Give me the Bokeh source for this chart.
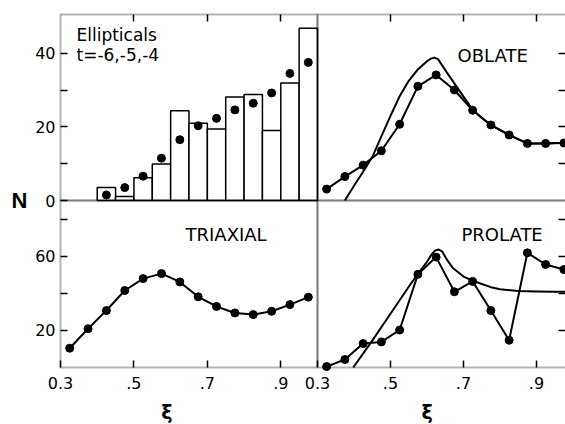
from bokeh.plotting import figure
from bokeh.models import Range1d, LinearAxis, FixedTicker, BoxAnnotation, Label
from bokeh.embed import file_html
from bokeh.resources import INLINE

# ---------------- data ----------------
# Ellipticals histogram (bins of width 0.05) and dots
bin_edges = [0.40, 0.45, 0.50, 0.55, 0.60, 0.65, 0.70, 0.75, 0.80, 0.85, 0.90, 0.95, 1.00]
bar_n = [3.5, 1.1, 6.2, 9.9, 24.4, 21.0, 19.4, 28.1, 28.8, 19.0, 31.9, 46.8]
ell_x = [0.425, 0.475, 0.525, 0.575, 0.625, 0.675, 0.725, 0.775, 0.825, 0.875, 0.925, 0.975]
ell_n = [1.5, 3.5, 6.6, 11.5, 16.5, 20.3, 22.3, 24.6, 26.4, 29.2, 34.5, 37.5]

# xi values of the binned points (oblate / triaxial / prolate)
xi = [0.325, 0.375, 0.425, 0.475, 0.525, 0.575, 0.625, 0.675, 0.725, 0.775, 0.825, 0.875, 0.925, 0.975]
oblate_n = [3.1, 6.5, 9.6, 13.5, 20.7, 31.0, 34.1, 30.0, 24.5, 20.5, 17.8, 15.5, 15.5, 15.6]
triaxial_n = [10.4, 20.9, 30.7, 41.5, 47.9, 50.6, 46.1, 38.1, 32.9, 29.4, 28.5, 30.3, 33.9, 37.9]
prolate_n = [0.5, 4.3, 12.9, 13.8, 20.2, 50.2, 59.5, 40.8, 46.4, 30.7, 14.7, 61.8, 55.5, 52.8]

# smooth curves
oblate_curve_x = [0.375, 0.40, 0.425, 0.45, 0.475, 0.50, 0.525, 0.55, 0.575, 0.60, 0.61, 0.62,
                  0.63, 0.65, 0.675, 0.70, 0.725, 0.75, 0.775, 0.80, 0.825, 0.85, 0.875, 0.90,
                  0.925, 0.95, 0.975, 0.99]
oblate_curve_n = [0.0, 4.0, 7.8, 11.8, 17.4, 23.0, 28.3, 32.5, 35.6, 37.8, 38.5, 38.8,
                  38.4, 35.4, 31.8, 28.2, 24.7, 22.4, 20.5, 19.1, 17.8, 16.6, 15.5, 15.5,
                  15.5, 15.6, 15.6, 15.6]
prolate_curve_x = [0.398, 0.45, 0.50, 0.55, 0.575, 0.60, 0.612, 0.622, 0.632, 0.642, 0.655,
                   0.67, 0.70, 0.725, 0.75, 0.775, 0.80, 0.85, 0.90, 0.95, 0.99]
prolate_curve_n = [0.0, 14.5, 29.0, 43.5, 50.5, 57.0, 60.8, 63.0, 63.6, 62.4, 58.0,
                   53.8, 49.0, 46.8, 45.0, 43.3, 42.2, 41.2, 40.9, 40.8, 40.8]

x_ticks = [0.3, 0.5, 0.7, 0.9]
x_tick_labels = ["0.3", ".5", ".7", ".9"]
top_y_ticks = [0, 20, 40]
top_y_minor = [10, 30]
bot_y_ticks = [20, 60]
bot_y_minor = [40, 80]

# ---------------- layout (pixels) ----------------
W, H = 565, 424
X0, XM = 60, 317           # left edge, middle divider
Y0, YM, Y1 = 14, 200, 367  # top edge, middle divider, bottom edge
XL_MIN, XL_MAX = 0.3, 1.0
XR_PPU = 365.0             # pixels per unit of xi in the right panels
YT_MAX = 50.5
YB_MAX = 90.0

ppu_l = (XM - X0) / (XL_MAX - XL_MIN)
ppu_t = (YM - Y0) / YT_MAX
ppu_b = (Y1 - YM) / YB_MAX

# the frame covers the whole canvas; each panel has its own ranges
l_x = Range1d(XL_MIN - X0 / ppu_l, XL_MIN + (W - X0) / ppu_l)
r_x = Range1d(XL_MIN - XM / XR_PPU, XL_MIN + (W - XM) / XR_PPU)
t_y = Range1d(-(H - YM) / ppu_t, YT_MAX + Y0 / ppu_t)
b_y = Range1d(-(H - Y1) / ppu_b, YB_MAX + YM / ppu_b)
XR_EDGE = XL_MIN + (W - XM) / XR_PPU

FONT = "DejaVu Sans"
LW = 2

p = figure(width=W, height=H, x_range=l_x, y_range=t_y, output_backend="svg",
           toolbar_location=None, x_axis_location=None, y_axis_location=None,
           min_border=0)
p.extra_x_ranges = {"r": r_x}
p.extra_y_ranges = {"b": b_y}
p.grid.visible = False
p.outline_line_color = None
p.background_fill_color = "white"
p.border_fill_color = "white"

# panel frames
box = dict(fill_color=None, line_color="black", line_width=LW)
p.add_layout(BoxAnnotation(left=XL_MIN, right=XL_MAX, bottom=0, top=YT_MAX, **box))
p.add_layout(BoxAnnotation(left=XL_MIN, right=XL_MAX, bottom=0, top=YB_MAX,
                           y_range_name="b", **box))
p.add_layout(BoxAnnotation(left=XL_MIN, right=XR_EDGE + 0.05, bottom=0, top=YT_MAX,
                           x_range_name="r", **box))
p.add_layout(BoxAnnotation(left=XL_MIN, right=XR_EDGE + 0.05, bottom=0, top=YB_MAX,
                           x_range_name="r", y_range_name="b", **box))


def make_axis(xr, yr, loc, ticks, minor, overrides=None):
    ax = LinearAxis(x_range_name=xr, y_range_name=yr, fixed_location=loc,
                    ticker=FixedTicker(ticks=ticks, minor_ticks=minor),
                    axis_line_color=None,
                    major_tick_in=7, major_tick_out=0, minor_tick_in=7, minor_tick_out=0,
                    major_tick_line_width=1.5, minor_tick_line_width=1.5,
                    major_tick_line_color="black", minor_tick_line_color="black",
                    major_label_text_font=FONT, major_label_text_font_size="16px",
                    major_label_text_color="black")
    if overrides:
        ax.major_label_overrides = overrides
    return ax


xo = {t: s for t, s in zip(x_ticks, x_tick_labels)}
# left axes
ax = make_axis("default", "default", XL_MIN, top_y_ticks, top_y_minor)
ax.major_label_standoff = 5
p.add_layout(ax, "left")
ax = make_axis("default", "b", XL_MIN, bot_y_ticks, bot_y_minor)
ax.major_label_standoff = 5
p.add_layout(ax, "left")
# bottom axes
for xr in ["default", "r"]:
    ax = make_axis(xr, "b", 0, x_ticks, [], xo)
    ax.major_label_standoff = 9
    p.add_layout(ax, "below")
# top ticks
for xr in ["default", "r"]:
    p.add_layout(make_axis(xr, "default", YT_MAX, [], x_ticks[1:]), "above")
# right ticks
p.add_layout(make_axis("r", "default", XR_EDGE, [], top_y_ticks[1:] + top_y_minor), "right")
p.add_layout(make_axis("r", "b", XR_EDGE, [], bot_y_ticks + bot_y_minor), "right")

# ---------------- glyphs ----------------
p.quad(left=bin_edges[:-1], right=bin_edges[1:], top=bar_n, bottom=0,
       fill_color="white", line_color="black", line_width=1.5)
p.scatter(ell_x, ell_n, size=8, color="black")

p.line(oblate_curve_x, oblate_curve_n, x_range_name="r", line_width=LW, color="black",
       line_join="round")
p.line(xi, oblate_n, x_range_name="r", line_width=LW, color="black", line_join="round")
p.scatter(xi, oblate_n, x_range_name="r", size=8, color="black")

p.line(xi, triaxial_n, y_range_name="b", line_width=LW, color="black", line_join="round")
p.scatter(xi, triaxial_n, y_range_name="b", size=8, color="black")

p.line(prolate_curve_x, prolate_curve_n, x_range_name="r", y_range_name="b",
       line_width=LW, color="black", line_join="round")
p.line(xi, prolate_n, x_range_name="r", y_range_name="b", line_width=LW, color="black",
       line_join="round")
p.scatter(xi, prolate_n, x_range_name="r", y_range_name="b", size=8, color="black")


# ---------------- text ----------------
def lab(x, y, text, xr="default", yr="default", size="18px", **kw):
    opts = dict(text_font=FONT, text_font_size=size, text_color="black",
                text_baseline="middle", text_align="left")
    opts.update(kw)
    p.add_layout(Label(x=x, y=y, text=text, x_range_name=xr, y_range_name=yr, **opts))


lab(0.3436, 44.9, "Ellipticals", size="17px")
lab(0.3436, 39.4, "t=-6,-5,-4", size="17px")
lab(0.6836, 39.4, "OBLATE", xr="r")
lab(0.6405, 71.9, "TRIAXIAL", yr="b")
lab(0.6945, 71.7, "PROLATE", xr="r", yr="b")
lab(XL_MIN, 0, "N", size="22px", text_font_style="bold", text_align="center",
    x_offset=-41, text_font="Liberation Sans")
lab(0.59, 0, "ξ", yr="b", size="19px", text_font_style="bold", text_align="center",
    y_offset=-44)
lab(0.60, 0, "ξ", xr="r", yr="b", size="19px", text_font_style="bold", text_align="center",
    y_offset=-44)

open("out.html", "w").write(file_html(p, INLINE))
